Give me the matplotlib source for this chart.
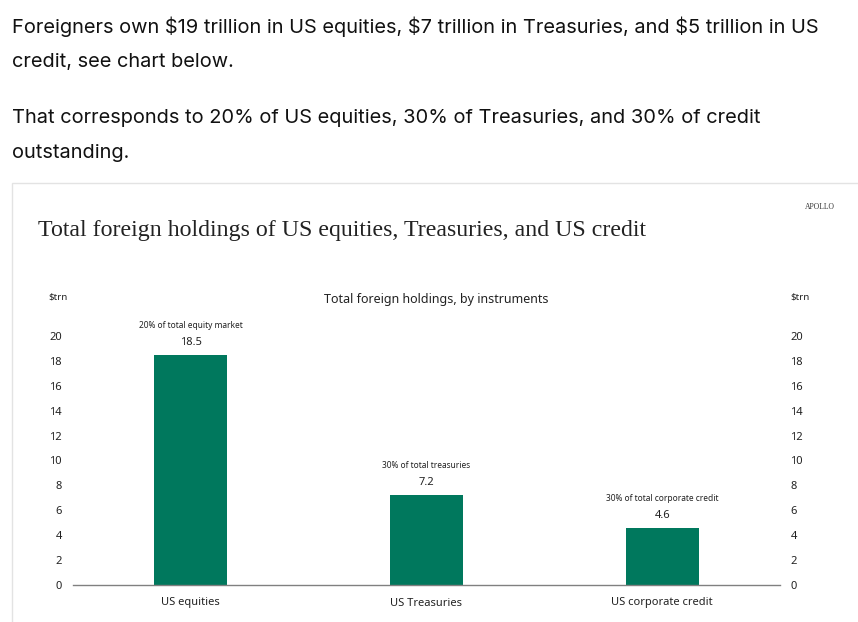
import matplotlib.pyplot as plt
from matplotlib.patches import Rectangle

categories = ['US equities', 'US Treasuries', 'US corporate credit']
holdings = [18.5, 7.2, 4.6]
notes = ['20% of total equity market', '30% of total treasuries', '30% of total corporate credit']
y_ticks = [0, 2, 4, 6, 8, 10, 12, 14, 16, 18, 20]

green = '#00785D'
sans = ['Noto Sans', 'DejaVu Sans']
page_font = ['Inter', 'DejaVu Sans']

fig = plt.figure(figsize=(8.58, 6.22), dpi=100)

# page text above the chart
page_lines = [
    (27, 'Foreigners own $19 trillion in US equities, $7 trillion in Treasuries, and $5 trillion in US'),
    (62, 'credit, see chart below.'),
    (118, 'That corresponds to 20% of US equities, 30% of Treasuries, and 30% of credit'),
    (153, 'outstanding.'),
]
for ypix, line in page_lines:
    fig.text(12/858, 1 - ypix/622, line, fontsize=14.4, family=page_font, va='center', ha='left',
             color='#111111')

# chart panel border
fig.patches.append(Rectangle((12/858, -0.1), 1.0, 1 - 183/622 + 0.1, transform=fig.transFigure,
                             fill=False, edgecolor='#e3e3e3', linewidth=1))

fig.text(835/858, 1 - 207/622, 'APOLLO', fontsize=5.5, family='Liberation Serif', ha='right', va='center',
         color='#333333')
fig.text(38/858, 1 - 230/622, 'Total foreign holdings of US equities, Treasuries, and US credit',
         fontsize=17.2, family='Liberation Serif', ha='left', va='center', color='#222222')

ax = fig.add_axes([73/858, 1 - 585/622, 707/858, 249/622])
x = list(range(len(categories)))
ax.bar(x, holdings, width=0.31, color=green, zorder=2)

for xi, v, note in zip(x, holdings, notes):
    ax.annotate(f'{v}', (xi, v), xytext=(0, 5), textcoords='offset points', ha='center', va='bottom',
                fontsize=8, family=sans, color='#222222')
    ax.annotate(note, (xi, v), xytext=(0, 18), textcoords='offset points', ha='center', va='bottom',
                fontsize=6, family=sans, color='#222222')

ax.set_xlim(-0.5, 2.5)
ax.set_ylim(0, 20)
ax.set_yticks(y_ticks)
ax.set_xticks(x)
ax.set_xticklabels(categories, family=sans, fontsize=8, color='#222222')
for lab in ax.get_yticklabels():
    lab.set_family(sans)
ax.tick_params(axis='y', length=0, labelsize=8, labelcolor='#222222', pad=8)
ax.tick_params(axis='x', length=0, pad=9)
for side in ['top', 'left', 'right']:
    ax.spines[side].set_visible(False)
ax.spines['bottom'].set_color('#808080')
ax.spines['bottom'].set_linewidth(1)

# right-hand axis with the same scale
ax2 = ax.twinx()
ax2.set_ylim(ax.get_ylim())
ax2.set_yticks(y_ticks)
for lab in ax2.get_yticklabels():
    lab.set_family(sans)
ax2.tick_params(axis='y', length=0, labelsize=8, labelcolor='#222222', pad=7.5)
for side in ['top', 'left', 'right', 'bottom']:
    ax2.spines[side].set_visible(False)

fig.text(48/858, 1 - 297/622, '$trn', fontsize=7, family=sans, ha='left', va='center', color='#222222')
fig.text(790/858, 1 - 297/622, '$trn', fontsize=7, family=sans, ha='left', va='center', color='#222222')
fig.text(436/858, 1 - 299/622, 'Total foreign holdings, by instruments', fontsize=9, family=sans,
         ha='center', va='center', color='#222222')

fig.savefig('out.png', dpi=100)
